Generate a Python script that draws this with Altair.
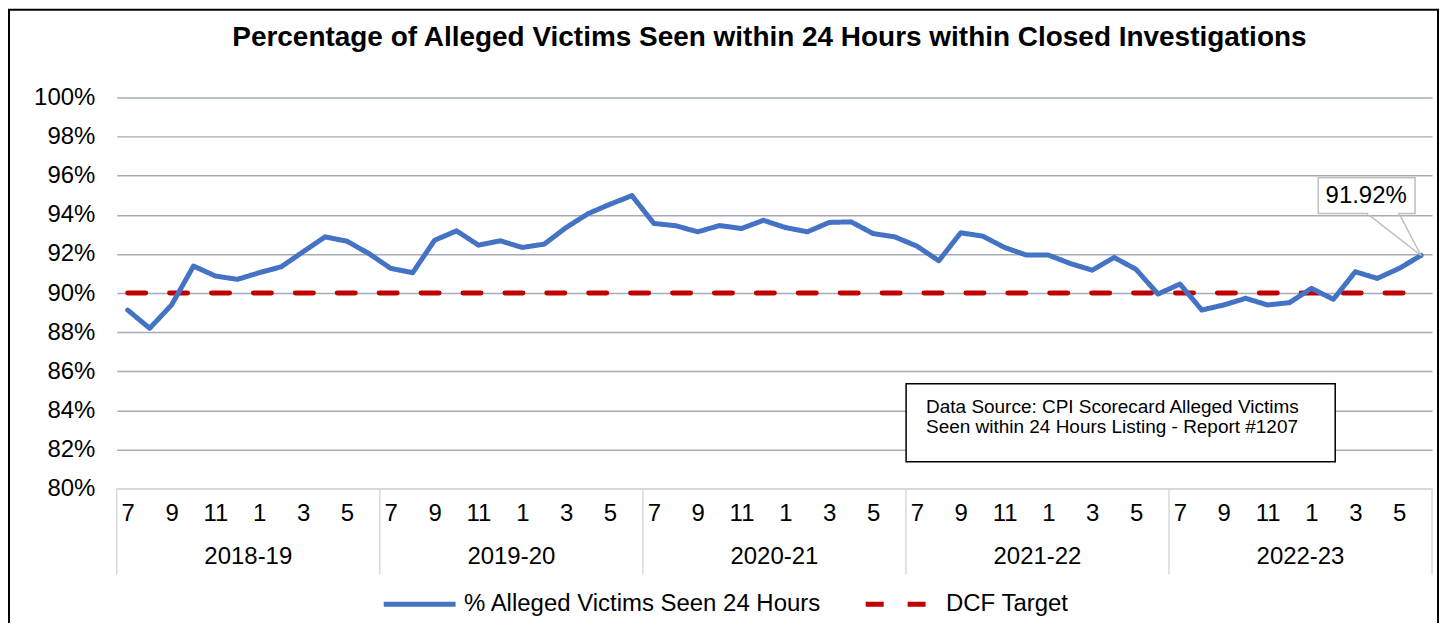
import altair as alt
import pandas as pd

# ---------------- data ----------------
fiscal_years = ["2018-19", "2019-20", "2020-21", "2021-22", "2022-23"]
months = [7, 8, 9, 10, 11, 12, 1, 2, 3, 4, 5, 6]
pct_seen = [
    89.13, 88.20, 89.39, 91.38, 90.87, 90.70, 91.04, 91.34, 92.11, 92.87, 92.65, 92.02,
    91.26, 91.04, 92.70, 93.18, 92.45, 92.67, 92.33, 92.50, 93.35, 94.06, 94.54, 94.98,
    93.56, 93.44, 93.13, 93.45, 93.30, 93.72, 93.35, 93.13, 93.61, 93.64, 93.04, 92.87,
    92.40, 91.65, 93.08, 92.91, 92.33, 91.94, 91.94, 91.51, 91.17, 91.82, 91.21, 89.95,
    90.46, 89.13, 89.39, 89.73, 89.39, 89.51, 90.24, 89.68, 91.09, 90.75, 91.26, 91.92,
]
target_value = 90
series_label = "% Alleged Victims Seen 24 Hours"
target_label = "DCF Target"
title_text = "Percentage of Alleged Victims Seen within 24 Hours within Closed Investigations"
source_lines = [
    "Data Source: CPI Scorecard Alleged Victims",
    "Seen within 24 Hours Listing - Report #1207",
]
y_ticks = [80, 82, 84, 86, 88, 90, 92, 94, 96, 98, 100]

# ---------------- tables ----------------
n = len(pct_seen)
main_df = pd.DataFrame({
    "idx": list(range(n)),
    "fy": [fiscal_years[i // 12] for i in range(n)],
    "month": [months[i % 12] for i in range(n)],
    "value": pct_seen,
    "series": [series_label] * n,
})
target_df = pd.DataFrame({
    "idx": list(range(n)),
    "value": [target_value] * n,
    "series": [target_label] * n,
})
year_df = pd.DataFrame({
    "fy": fiscal_years,
    "mid": [12 * k + 5.5 for k in range(len(fiscal_years))],
})
bound_df = pd.DataFrame({"b": [12 * k - 0.5 for k in range(len(fiscal_years) + 1)]})
last_df = main_df.tail(1).assign(label=lambda d: d["value"].map(lambda v: f"{v:.2f}%"))
one_df = pd.DataFrame({"t": [title_text]})
src_df = pd.DataFrame({"t": ["\n".join(source_lines)]})

W, H = 1318, 392
FONT = "Liberation Sans"
LBL = 24

x_scale = alt.Scale(domain=[-0.5, n - 0.5], nice=False, zero=False)
y_scale = alt.Scale(domain=[80, 100], nice=False, zero=False)
color_scale = alt.Scale(domain=[series_label, target_label], range=["#4472C4", "#C00000"])
dash_scale = alt.Scale(domain=[series_label, target_label], range=[[1, 0], [18, 24]])

month_expr = "''+((datum.value+6)%12+1)"

legend = alt.Legend(
    title=None, orient="none", legendX=265, legendY=469, direction="horizontal",
    symbolType="stroke", symbolSize=5184, symbolStrokeWidth=5,
    labelFontSize=LBL, labelFont=FONT, labelColor="black", labelOffset=6,
    labelLimit=0, columnPadding=33, padding=0,
)

x_axis = alt.Axis(
    values=list(range(0, n, 2)), labelExpr=month_expr, grid=False, ticks=False, tickSize=0,
    domainColor="#D9D9D9", domainWidth=1.5, labelFontSize=LBL, labelFont=FONT,
    labelColor="black", labelPadding=13, labelFlush=False, labelOverlap=False, title=None,
)
y_axis = alt.Axis(
    values=y_ticks, labelExpr="datum.value + '%'", gridColor="#A6ABB5", gridWidth=1.5,
    domain=False, ticks=False, tickSize=0, labelFontSize=LBL, labelFont=FONT,
    labelColor="black", labelPadding=22, labelOverlap=False, title=None,
)

xq = alt.X("idx:Q", scale=x_scale, axis=x_axis)
yq = alt.Y("value:Q", scale=y_scale, axis=y_axis)
x2q = alt.X2("idx:Q")
y2q = alt.Y2("value:Q")

frame = alt.Chart(one_df).mark_rect(fillOpacity=0, stroke="black", strokeWidth=2).encode(
    x=alt.value(-108), x2=alt.value(W + 6), y=alt.value(-88), y2=alt.value(H + 300)
)

separators = alt.Chart(bound_df).mark_rule(color="#D9D9D9", strokeWidth=1.5).encode(
    x=alt.X("b:Q", scale=x_scale, axis=x_axis),
    y=alt.value(H), y2=alt.value(H + 86),
)

target_line = alt.Chart(target_df).mark_line(strokeWidth=5, strokeCap="round").encode(
    x=xq, y=yq,
    color=alt.Color("series:N", scale=color_scale, legend=legend),
    strokeDash=alt.StrokeDash("series:N", scale=dash_scale, legend=legend),
)

main_line = alt.Chart(main_df).mark_line(strokeWidth=5, strokeJoin="round", strokeCap="round").encode(
    x=xq, y=yq,
    color=alt.Color("series:N", scale=color_scale, legend=legend),
    strokeDash=alt.StrokeDash("series:N", scale=dash_scale, legend=legend),
)

year_text = alt.Chart(year_df).mark_text(fontSize=LBL, font=FONT, color="black", baseline="middle").encode(
    x=alt.X("mid:Q", scale=x_scale, axis=x_axis),
    y=alt.value(H + 69),
    text="fy:N",
)

src_box = alt.Chart(one_df).mark_rect(fill="white", stroke="black", strokeWidth=1.5).encode(
    x=alt.value(791), x2=alt.value(1221), y=alt.value(287), y2=alt.value(365)
)
src_text = alt.Chart(src_df).mark_text(
    fontSize=19, font=FONT, color="black", align="left", baseline="top",
    lineBreak="\n", lineHeight=20,
).encode(x=alt.value(811), y=alt.value(301), text="t:N")

call_box = alt.Chart(last_df).mark_rect(
    fill="white", stroke="#BFBFBF", strokeWidth=1.5,
    xOffset=-103, x2Offset=-6, yOffset=-78, y2Offset=-42,
).encode(x=xq, x2=x2q, y=yq, y2=y2q)
ptr1 = alt.Chart(last_df).mark_rule(color="#BFBFBF", strokeWidth=1.5, x2Offset=-54, y2Offset=-42).encode(
    x=xq, x2=x2q, y=yq, y2=y2q)
ptr2 = alt.Chart(last_df).mark_rule(color="#BFBFBF", strokeWidth=1.5, x2Offset=-22, y2Offset=-42).encode(
    x=xq, x2=x2q, y=yq, y2=y2q)
gap = alt.Chart(last_df).mark_rule(
    color="white", strokeWidth=2.5, xOffset=-53, x2Offset=-23, yOffset=-42, y2Offset=-42,
).encode(x=xq, x2=x2q, y=yq, y2=y2q)
call_text = alt.Chart(last_df).mark_text(
    fontSize=24, font=FONT, color="black", dx=-55, dy=-60, baseline="middle"
).encode(x=xq, y=yq, text="label:N")

title = alt.Chart(one_df).mark_text(
    fontSize=28, font=FONT, fontWeight="bold", color="black", baseline="middle"
).encode(x=alt.value(654), y=alt.value(-60), text="t:N")

chart = alt.layer(
    frame, separators, target_line, main_line, year_text, src_box, src_text,
    ptr1, ptr2, call_box, gap, call_text, title,
).properties(
    width=W, height=H,
    autosize=alt.AutoSizeParams(type="none"),
    padding={"left": 109, "top": 89, "right": 8, "bottom": 134},
).configure(font=FONT).configure_view(strokeWidth=0)

chart.save("out.html", embed_options={"renderer": "svg", "actions": False})
